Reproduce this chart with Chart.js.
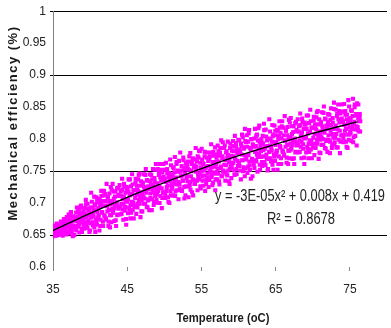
<!DOCTYPE html>
<html>
<head>
<meta charset="utf-8">
<script src="https://cdn.jsdelivr.net/npm/chart.js@4/dist/chart.umd.min.js"></script>
<style>
  html, body { margin: 0; padding: 0; background: #fff; }
  #wrap { position: relative; width: 391px; height: 328px; }
</style>
</head>
<body>
<div id="wrap"><canvas id="grafico"></canvas></div>
<script>
// temperature readings (oC), first run
var temps = [
  35.03,35.11,35.19,35.26,35.34,35.42,35.5,35.58,35.66,35.74,35.83,35.91,
  36.07,36.14,36.22,36.31,36.38,36.47,36.55,36.61,36.7,36.79,36.86,36.95,
  37.03,37.11,37.19,37.26,37.34,37.42,37.5,37.58,37.66,37.74,37.83,37.91,
  38.07,38.14,38.22,38.31,38.38,38.47,38.55,38.61,38.7,38.79,38.86,38.95,
  39.03,39.11,39.19,39.26,39.34,39.42,39.5,39.58,39.66,39.74,39.83,39.91,
  40.07,40.14,40.22,40.31,40.38,40.47,40.55,40.61,40.7,40.79,40.86,40.95,
  41.03,41.11,41.19,41.26,41.34,41.42,41.5,41.58,41.66,41.74,41.83,41.91,
  42.07,42.14,42.22,42.31,42.38,42.47,42.55,42.61,42.7,42.79,42.86,42.95,
  43.03,43.11,43.19,43.26,43.34,43.42,43.5,43.58,43.66,43.74,43.83,43.91,
  44.07,44.14,44.22,44.31,44.38,44.47,44.55,44.61,44.7,44.79,44.86,44.95,
  45.03,45.11,45.19,45.26,45.34,45.42,45.5,45.58,45.66,45.74,45.83,45.91,
  46.07,46.14,46.22,46.31,46.38,46.47,46.55,46.61,46.7,46.79,46.86,46.95,
  47.03,47.11,47.19,47.26,47.34,47.42,47.5,47.58,47.66,47.74,47.83,47.91,
  48.07,48.14,48.22,48.31,48.38,48.47,48.55,48.61,48.7,48.79,48.86,48.95,
  49.03,49.11,49.19,49.26,49.34,49.42,49.5,49.58,49.66,49.74,49.83,49.91,
  50.07,50.14,50.22,50.31,50.38,50.47,50.55,50.61,50.7,50.79,50.86,50.95,
  51.03,51.11,51.19,51.26,51.34,51.42,51.5,51.58,51.66,51.74,51.83,51.91,
  52.07,52.14,52.22,52.31,52.38,52.47,52.55,52.61,52.7,52.79,52.86,52.95,
  53.03,53.11,53.19,53.26,53.34,53.42,53.5,53.58,53.66,53.74,53.83,53.91,
  54.07,54.14,54.22,54.31,54.38,54.47,54.55,54.61,54.7,54.79,54.86,54.95,
  55.03,55.11,55.19,55.26,55.34,55.42,55.5,55.58,55.66,55.74,55.83,55.91,
  56.07,56.14,56.22,56.31,56.38,56.47,56.55,56.61,56.7,56.79,56.86,56.95,
  57.03,57.11,57.19,57.26,57.34,57.42,57.5,57.58,57.66,57.74,57.83,57.91,
  58.07,58.14,58.22,58.31,58.38,58.47,58.55,58.61,58.7,58.79,58.86,58.95,
  59.03,59.11,59.19,59.26,59.34,59.42,59.5,59.58,59.66,59.74,59.83,59.91,
  60.07,60.14,60.22,60.31,60.38,60.47,60.55,60.61,60.7,60.79,60.86,60.95,
  61.03,61.11,61.19,61.26,61.34,61.42,61.5,61.58,61.66,61.74,61.83,61.91,
  62.07,62.14,62.22,62.31,62.38,62.47,62.55,62.61,62.7,62.79,62.86,62.95,
  63.03,63.11,63.19,63.26,63.34,63.42,63.5,63.58,63.66,63.74,63.83,63.91,
  64.07,64.14,64.22,64.31,64.38,64.47,64.55,64.61,64.7,64.79,64.86,64.95,
  65.03,65.11,65.19,65.26,65.34,65.42,65.5,65.58,65.66,65.74,65.83,65.91,
  66.07,66.14,66.22,66.31,66.38,66.47,66.55,66.61,66.7,66.79,66.86,66.95,
  67.03,67.11,67.19,67.26,67.34,67.42,67.5,67.58,67.66,67.74,67.83,67.91,
  68.07,68.14,68.22,68.31,68.38,68.47,68.55,68.61,68.7,68.79,68.86,68.95,
  69.03,69.11,69.19,69.26,69.34,69.42,69.5,69.58,69.66,69.74,69.83,69.91,
  70.07,70.14,70.22,70.31,70.38,70.47,70.55,70.61,70.7,70.79,70.86,70.95,
  71.03,71.11,71.19,71.26,71.34,71.42,71.5,71.58,71.66,71.74,71.83,71.91,
  72.07,72.14,72.22,72.31,72.38,72.47,72.55,72.61,72.7,72.79,72.86,72.95,
  73.03,73.11,73.19,73.26,73.34,73.42,73.5,73.58,73.66,73.74,73.83,73.91,
  74.07,74.14,74.22,74.31,74.38,74.47,74.55,74.61,74.7,74.79,74.86,74.95,
  75.03,75.11,75.19,75.26,75.34,75.42,75.5,75.58,75.66,75.74,75.83,75.91,
  76.07,76.14,76.22,76.31,76.38
];
// mechanical efficiency readings, first run
var eficiencias = [
  0.648,0.661,0.655,0.665,0.658,0.651,0.668,0.656,0.662,0.650,0.659,0.653,
  0.671,0.657,0.665,0.649,0.668,0.675,0.660,0.654,0.667,0.663,0.678,0.655,
  0.663,0.682,0.653,0.677,0.666,0.686,0.659,0.672,0.648,0.679,0.662,0.675,
  0.677,0.657,0.693,0.665,0.687,0.670,0.654,0.683,0.674,0.696,0.660,0.679,
  0.670,0.685,0.660,0.692,0.677,0.705,0.664,0.681,0.699,0.673,0.688,0.655,
  0.669,0.716,0.685,0.693,0.665,0.679,0.710,0.696,0.655,0.688,0.671,0.703,
  0.701,0.679,0.707,0.657,0.695,0.674,0.719,0.686,0.703,0.664,0.712,0.681,
  0.703,0.674,0.730,0.696,0.709,0.664,0.689,0.715,0.681,0.725,0.670,0.700,
  0.730,0.687,0.707,0.672,0.696,0.718,0.664,0.701,0.681,0.724,0.691,0.711,
  0.682,0.719,0.699,0.738,0.690,0.674,0.710,0.726,0.694,0.703,0.666,0.722,
  0.718,0.684,0.737,0.693,0.712,0.676,0.726,0.702,0.745,0.689,0.720,0.696,
  0.708,0.738,0.683,0.727,0.693,0.719,0.744,0.699,0.712,0.678,0.734,0.705,
  0.687,0.730,0.710,0.745,0.721,0.699,0.753,0.716,0.736,0.693,0.726,0.706,
  0.745,0.708,0.728,0.689,0.737,0.753,0.717,0.701,0.733,0.724,0.761,0.705,
  0.719,0.753,0.700,0.744,0.725,0.761,0.711,0.735,0.692,0.748,0.717,0.741,
  0.738,0.708,0.763,0.719,0.753,0.727,0.702,0.747,0.734,0.768,0.712,0.741,
  0.725,0.745,0.712,0.755,0.735,0.772,0.718,0.740,0.764,0.729,0.749,0.706,
  0.723,0.779,0.742,0.751,0.719,0.735,0.771,0.755,0.707,0.746,0.726,0.763,
  0.758,0.734,0.765,0.709,0.752,0.728,0.778,0.742,0.761,0.717,0.770,0.736,
  0.759,0.730,0.786,0.752,0.765,0.720,0.745,0.771,0.737,0.781,0.726,0.756,
  0.785,0.742,0.762,0.727,0.751,0.773,0.719,0.756,0.736,0.779,0.746,0.766,
  0.736,0.773,0.753,0.792,0.744,0.728,0.764,0.780,0.748,0.757,0.720,0.776,
  0.771,0.737,0.790,0.746,0.765,0.729,0.779,0.755,0.798,0.742,0.773,0.749,
  0.760,0.790,0.735,0.779,0.745,0.771,0.796,0.751,0.764,0.730,0.786,0.757,
  0.739,0.782,0.762,0.797,0.773,0.751,0.805,0.768,0.788,0.745,0.778,0.758,
  0.798,0.758,0.780,0.737,0.789,0.807,0.767,0.750,0.785,0.775,0.816,0.754,
  0.768,0.806,0.747,0.796,0.775,0.814,0.759,0.786,0.738,0.800,0.766,0.792,
  0.788,0.755,0.816,0.767,0.805,0.776,0.749,0.798,0.784,0.821,0.760,0.791,
  0.772,0.794,0.758,0.805,0.783,0.824,0.764,0.788,0.815,0.776,0.798,0.751,
  0.769,0.831,0.790,0.800,0.765,0.782,0.822,0.804,0.752,0.795,0.773,0.813,
  0.806,0.780,0.814,0.752,0.800,0.773,0.828,0.789,0.810,0.761,0.820,0.782,
  0.806,0.774,0.836,0.798,0.813,0.763,0.791,0.819,0.782,0.830,0.770,0.803,
  0.833,0.786,0.808,0.769,0.796,0.820,0.761,0.801,0.779,0.827,0.790,0.812,
  0.779,0.820,0.798,0.840,0.788,0.770,0.810,0.827,0.792,0.802,0.761,0.823,
  0.816,0.779,0.837,0.788,0.809,0.770,0.825,0.798,0.846,0.784,0.818,0.792,
  0.802,0.835,0.775,0.823,0.786,0.815,0.842,0.793,0.807,0.769,0.831,0.799,
  0.778,0.825,0.803,0.842,0.815,0.791,0.851,0.810,0.832,0.785,0.821,0.799,
  0.839,0.799,0.821,0.778,0.830,0.848,0.808,0.791,0.826,0.816,0.857,0.795,
  0.808,0.846,0.787,0.836,0.815,0.854,0.799,0.826,0.778,0.840,0.806,0.832,
  0.828,0.795,0.855,0.807,0.844,0.816,0.788,0.838,0.823,0.861,0.799,0.831,
  0.811,0.833,0.797,0.844,0.822,0.863,0.803,0.827,0.854,0.815,0.837,0.790,
  0.814,0.854,0.828,0.834,0.812
];
// temperature readings (oC), second run
var temps2 = [
  35.01,35.09,35.17,35.29,35.36,35.45,35.53,35.64,35.72,35.81,35.88,35.97,
  36.05,36.12,36.24,36.33,36.4,36.49,36.57,36.68,36.76,36.84,36.9,36.99,
  37.01,37.09,37.17,37.29,37.36,37.45,37.53,37.64,37.72,37.81,37.88,37.97,
  38.05,38.12,38.24,38.33,38.4,38.49,38.57,38.68,38.76,38.84,38.9,38.99,
  39.01,39.09,39.17,39.29,39.36,39.45,39.53,39.64,39.72,39.81,39.88,39.97,
  40.05,40.12,40.24,40.33,40.4,40.49,40.57,40.68,40.76,40.84,40.9,40.99,
  41.01,41.09,41.17,41.29,41.36,41.45,41.53,41.64,41.72,41.81,41.88,41.97,
  42.05,42.12,42.24,42.33,42.4,42.49,42.57,42.68,42.76,42.84,42.9,42.99,
  43.01,43.09,43.17,43.29,43.36,43.45,43.53,43.64,43.72,43.81,43.88,43.97,
  44.05,44.12,44.24,44.33,44.4,44.49,44.57,44.68,44.76,44.84,44.9,44.99,
  45.01,45.09,45.17,45.29,45.36,45.45,45.53,45.64,45.72,45.81,45.88,45.97,
  46.05,46.12,46.24,46.33,46.4,46.49,46.57,46.68,46.76,46.84,46.9,46.99,
  47.01,47.09,47.17,47.29,47.36,47.45,47.53,47.64,47.72,47.81,47.88,47.97,
  48.05,48.12,48.24,48.33,48.4,48.49,48.57,48.68,48.76,48.84,48.9,48.99,
  49.01,49.09,49.17,49.29,49.36,49.45,49.53,49.64,49.72,49.81,49.88,49.97,
  50.05,50.12,50.24,50.33,50.4,50.49,50.57,50.68,50.76,50.84,50.9,50.99,
  51.01,51.09,51.17,51.29,51.36,51.45,51.53,51.64,51.72,51.81,51.88,51.97,
  52.05,52.12,52.24,52.33,52.4,52.49,52.57,52.68,52.76,52.84,52.9,52.99,
  53.01,53.09,53.17,53.29,53.36,53.45,53.53,53.64,53.72,53.81,53.88,53.97,
  54.05,54.12,54.24,54.33,54.4,54.49,54.57,54.68,54.76,54.84,54.9,54.99,
  55.01,55.09,55.17,55.29,55.36,55.45,55.53,55.64,55.72,55.81,55.88,55.97,
  56.05,56.12,56.24,56.33,56.4,56.49,56.57,56.68,56.76,56.84,56.9,56.99,
  57.01,57.09,57.17,57.29,57.36,57.45,57.53,57.64,57.72,57.81,57.88,57.97,
  58.05,58.12,58.24,58.33,58.4,58.49,58.57,58.68,58.76,58.84,58.9,58.99,
  59.01,59.09,59.17,59.29,59.36,59.45,59.53,59.64,59.72,59.81,59.88,59.97,
  60.05,60.12,60.24,60.33,60.4,60.49,60.57,60.68,60.76,60.84,60.9,60.99,
  61.01,61.09,61.17,61.29,61.36,61.45,61.53,61.64,61.72,61.81,61.88,61.97,
  62.05,62.12,62.24,62.33,62.4,62.49,62.57,62.68,62.76,62.84,62.9,62.99,
  63.01,63.09,63.17,63.29,63.36,63.45,63.53,63.64,63.72,63.81,63.88,63.97,
  64.05,64.12,64.24,64.33,64.4,64.49,64.57,64.68,64.76,64.84,64.9,64.99,
  65.01,65.09,65.17,65.29,65.36,65.45,65.53,65.64,65.72,65.81,65.88,65.97,
  66.05,66.12,66.24,66.33,66.4,66.49,66.57,66.68,66.76,66.84,66.9,66.99,
  67.01,67.09,67.17,67.29,67.36,67.45,67.53,67.64,67.72,67.81,67.88,67.97,
  68.05,68.12,68.24,68.33,68.4,68.49,68.57,68.68,68.76,68.84,68.9,68.99,
  69.01,69.09,69.17,69.29,69.36,69.45,69.53,69.64,69.72,69.81,69.88,69.97,
  70.05,70.12,70.24,70.33,70.4,70.49,70.57,70.68,70.76,70.84,70.9,70.99,
  71.01,71.09,71.17,71.29,71.36,71.45,71.53,71.64,71.72,71.81,71.88,71.97,
  72.05,72.12,72.24,72.33,72.4,72.49,72.57,72.68,72.76,72.84,72.9,72.99,
  73.01,73.09,73.17,73.29,73.36,73.45,73.53,73.64,73.72,73.81,73.88,73.97,
  74.05,74.12,74.24,74.33,74.4,74.49,74.57,74.68,74.76,74.84,74.9,74.99,
  75.01,75.09,75.17,75.29,75.36,75.45,75.53,75.64,75.72,75.81,75.88,75.97,
  76.05,76.12,76.24,76.33,76.4
];
// mechanical efficiency readings, second run
var eficiencias2 = [
  0.658,0.653,0.663,0.655,0.660,0.649,0.657,0.664,0.652,0.661,0.656,0.666,
  0.658,0.666,0.654,0.669,0.663,0.660,0.673,0.656,0.667,0.651,0.671,0.662,
  0.676,0.666,0.673,0.658,0.683,0.661,0.655,0.671,0.679,0.664,0.650,0.674,
  0.660,0.685,0.672,0.678,0.663,0.688,0.667,0.694,0.670,0.681,0.655,0.675,
  0.676,0.689,0.664,0.684,0.670,0.698,0.679,0.661,0.691,0.668,0.682,0.657,
  0.693,0.677,0.702,0.670,0.682,0.689,0.662,0.698,0.674,0.709,0.666,0.686,
  0.676,0.692,0.681,0.706,0.664,0.700,0.711,0.685,0.671,0.696,0.719,0.679,
  0.714,0.676,0.695,0.687,0.709,0.671,0.703,0.662,0.698,0.681,0.721,0.691,
  0.703,0.685,0.718,0.692,0.710,0.673,0.699,0.723,0.682,0.713,0.695,0.728,
  0.693,0.712,0.683,0.721,0.706,0.698,0.730,0.688,0.716,0.675,0.725,0.702,
  0.724,0.706,0.718,0.690,0.737,0.697,0.685,0.714,0.729,0.701,0.676,0.720,
  0.694,0.732,0.713,0.721,0.699,0.737,0.705,0.746,0.710,0.727,0.687,0.717,
  0.714,0.732,0.699,0.725,0.707,0.744,0.718,0.694,0.735,0.704,0.722,0.689,
  0.734,0.715,0.744,0.706,0.721,0.729,0.697,0.739,0.711,0.752,0.702,0.725,
  0.713,0.731,0.719,0.747,0.700,0.740,0.752,0.723,0.708,0.736,0.761,0.717,
  0.752,0.714,0.733,0.725,0.747,0.709,0.741,0.700,0.736,0.719,0.759,0.729,
  0.741,0.723,0.756,0.730,0.748,0.711,0.737,0.761,0.720,0.751,0.733,0.766,
  0.730,0.749,0.720,0.758,0.743,0.735,0.767,0.725,0.753,0.712,0.762,0.739,
  0.760,0.742,0.754,0.726,0.773,0.733,0.721,0.750,0.765,0.737,0.712,0.756,
  0.730,0.768,0.749,0.757,0.735,0.773,0.741,0.782,0.746,0.763,0.723,0.753,
  0.750,0.768,0.735,0.761,0.743,0.780,0.754,0.730,0.771,0.740,0.758,0.725,
  0.769,0.750,0.779,0.741,0.756,0.764,0.732,0.774,0.746,0.787,0.737,0.760,
  0.747,0.765,0.753,0.781,0.734,0.774,0.786,0.757,0.742,0.770,0.795,0.751,
  0.786,0.748,0.767,0.759,0.781,0.743,0.775,0.734,0.770,0.753,0.793,0.763,
  0.774,0.756,0.789,0.763,0.781,0.744,0.770,0.794,0.753,0.784,0.766,0.799,
  0.762,0.783,0.751,0.793,0.776,0.767,0.803,0.756,0.787,0.742,0.797,0.772,
  0.795,0.775,0.788,0.757,0.809,0.765,0.752,0.784,0.800,0.769,0.742,0.790,
  0.760,0.801,0.780,0.789,0.765,0.807,0.772,0.817,0.777,0.796,0.752,0.785,
  0.781,0.800,0.764,0.793,0.773,0.814,0.785,0.759,0.804,0.770,0.789,0.753,
  0.801,0.780,0.812,0.770,0.787,0.796,0.760,0.807,0.776,0.821,0.766,0.791,
  0.776,0.795,0.782,0.813,0.761,0.805,0.818,0.787,0.770,0.801,0.828,0.780,
  0.818,0.776,0.797,0.788,0.813,0.771,0.806,0.761,0.800,0.782,0.826,0.793,
  0.803,0.784,0.820,0.791,0.811,0.770,0.799,0.825,0.780,0.814,0.795,0.831,
  0.791,0.812,0.780,0.822,0.805,0.796,0.832,0.785,0.816,0.771,0.826,0.801,
  0.823,0.803,0.816,0.785,0.837,0.793,0.780,0.812,0.828,0.797,0.770,0.818,
  0.787,0.829,0.808,0.817,0.793,0.834,0.799,0.844,0.805,0.823,0.779,0.812,
  0.808,0.827,0.791,0.820,0.800,0.841,0.812,0.786,0.831,0.797,0.816,0.780,
  0.827,0.806,0.838,0.796,0.813,0.822,0.786,0.833,0.802,0.847,0.792,0.817,
  0.802,0.821,0.808,0.839,0.787,0.831,0.844,0.813,0.796,0.827,0.854,0.806,
  0.843,0.801,0.822,0.813,0.838,0.796,0.831,0.786,0.825,0.807,0.851,0.818,
  0.828,0.809,0.845,0.816,0.836,0.795,0.824,0.850,0.805,0.839,0.820,0.856,
  0.819,0.833,0.812,0.839,0.828
];
// polynomial trend line
var tendenciaT = [35, 40, 45, 50, 55, 60, 65, 70, 76];
var tendenciaE = [0.657, 0.684, 0.709, 0.732, 0.754, 0.774, 0.792, 0.809, 0.827];

var ticksX = [35, 45, 55, 65, 75];
var lineasY = [0.65, 0.75, 0.9, 1];

var ecuacion = 'y = -3E-05x\u00B2 + 0.008x + 0.419';
var r2 = 'R\u00B2 = 0.8678';
var tituloX = 'Temperature (oC)';
var tituloY = 'Mechanical efficiency (%)';

var fuente = "'Liberation Sans', Arial, sans-serif";

var puntos = [];
for (var i = 0; i < temps.length; i++) puntos.push({x: temps[i], y: eficiencias[i]});
for (var m = 0; m < temps2.length; m++) puntos.push({x: temps2[m], y: eficiencias2[m]});
var tendencia = [];
for (var j = 0; j < tendenciaT.length; j++) tendencia.push({x: tendenciaT[j], y: tendenciaE[j]});

function esLinea(v) {
  for (var k = 0; k < lineasY.length; k++) {
    if (Math.abs(v - lineasY[k]) < 1e-6) return true;
  }
  return false;
}

// narrow text: squeeze a normal face to the width seen in the picture
function textoAngosto(ctx, txt, cx, cy, ancho) {
  var w = ctx.measureText(txt).width;
  var f = Math.min(1, ancho / w);
  ctx.save();
  ctx.translate(cx, cy);
  ctx.scale(f, 1);
  ctx.fillText(txt, 0, 0);
  ctx.restore();
}

var textos = {
  id: 'textos',
  afterDraw: function (chart) {
    var ctx = chart.ctx;
    ctx.save();
    ctx.fillStyle = '#1a1a1a';
    ctx.textAlign = 'center';
    ctx.textBaseline = 'middle';
    ctx.font = 'bold 13px ' + fuente;
    textoAngosto(ctx, tituloX, 223, 318, 93);

    ctx.save();
    ctx.translate(13, 123);
    ctx.rotate(-Math.PI / 2);
    ctx.font = 'bold 13px ' + fuente;
    ctx.letterSpacing = '1.5px';
    ctx.fillText(tituloY, 0, 0);
    ctx.restore();

    ctx.fillStyle = '#222';
    ctx.font = '16px ' + fuente;
    textoAngosto(ctx, ecuacion, 300, 197, 170);
    textoAngosto(ctx, r2, 301, 220, 68);
    ctx.restore();
  }
};

var grafico = new Chart(document.getElementById('grafico'), {
  type: 'scatter',
  data: {
    datasets: [
      {
        type: 'line',
        label: 'tendencia',
        data: tendencia,
        borderColor: '#000',
        borderWidth: 1.3,
        pointRadius: 0,
        tension: 0.4,
        fill: false,
        order: 0
      },
      {
        label: 'datos',
        data: puntos,
        pointStyle: 'rect',
        pointRadius: 2.9,
        borderWidth: 0,
        backgroundColor: '#ff00ff',
        borderColor: '#ff00ff',
        order: 1
      }
    ]
  },
  options: {
    responsive: true,
    maintainAspectRatio: false,
    animation: false,
    layout: { padding: { top: 10, right: 1, left: 0, bottom: 0 } },
    plugins: { legend: { display: false }, tooltip: { enabled: false } },
    scales: {
      x: {
        type: 'linear',
        min: 35,
        max: 80,
        afterBuildTicks: function (scale) {
          scale.ticks = ticksX.map(function (v) { return {value: v}; });
        },
        afterFit: function (scale) { scale.height = 61; },
        border: { display: false },
        grid: { drawOnChartArea: false, color: '#888', tickLength: 4 },
        ticks: { color: '#222', padding: 11, font: { family: fuente, size: 12 } }
      },
      y: {
        min: 0.6,
        max: 1,
        afterFit: function (scale) { scale.width = 53; },
        border: { display: true, color: '#808080', width: 1 },
        grid: {
          tickLength: 3,
          lineWidth: 1,
          color: function (c) { return esLinea(c.tick.value) ? '#000' : 'rgba(0,0,0,0)'; }
        },
        ticks: {
          stepSize: 0.05,
          color: '#222',
          padding: 4,
          font: { family: fuente, size: 12 },
          callback: function (v) { return String(Number(v.toFixed(2))); }
        }
      }
    }
  },
  plugins: [textos]
});
</script>
</body>
</html>
